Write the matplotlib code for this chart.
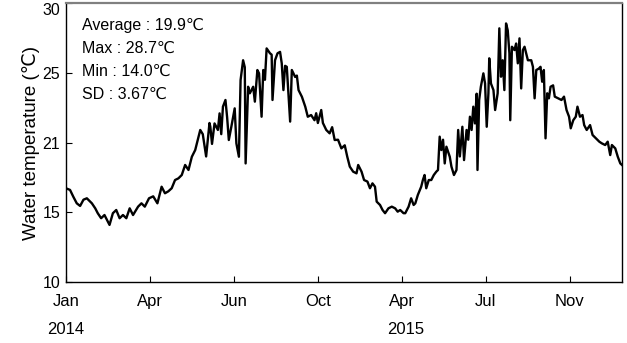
import matplotlib
matplotlib.use('Agg')
import matplotlib.pyplot as plt
import matplotlib.transforms as mtransforms

plt.rcParams['font.family'] = ['Liberation Sans', 'DejaVu Sans']

# sample index (ticks every 100) and water temperature
day = [0, 5, 9, 13, 17, 21, 25, 31, 35, 38, 42, 46, 52, 56, 60, 64, 68, 72, 76, 80,
       86, 90, 94, 99, 104, 109, 114, 118, 122, 126, 130, 134, 138, 142, 146, 150, 154, 158, 160, 163,
       167, 171, 172, 174, 177, 181, 183, 185, 187, 190, 192, 194, 197, 201, 203, 206, 208, 211, 213, 214,
       217, 219, 223, 225, 228, 230, 233, 235, 237, 239, 243, 245, 246, 249, 252, 255, 257, 259, 261, 263,
       267, 269, 273, 275, 277, 281, 285, 288, 292, 296, 298, 300, 304, 306, 310, 314, 317, 320, 324, 328,
       332, 335, 338, 342, 346, 348, 352, 355, 359, 362, 365, 368, 370, 374, 377, 380, 384, 388, 392, 395,
       398, 402, 404, 408, 411, 414, 416, 419, 423, 425, 427, 429, 432, 435, 438, 441, 443, 445, 447, 449,
       451, 453, 457, 459, 462, 465, 467, 469, 472, 474, 477, 479, 481, 483, 485, 487, 489, 490, 492, 494,
       497, 499, 501, 503, 504, 506, 509, 511, 514, 516, 518, 520, 522, 524, 525, 526, 528, 529, 531, 534,
       536, 538, 540, 542, 544, 546, 548, 550, 554, 556, 558, 560, 563, 565, 567, 569, 571, 573, 575, 577,
       580, 582, 586, 590, 593, 596, 599, 601, 604, 607, 609, 612, 615, 617, 620, 624, 627, 631, 635, 638,
       642, 645, 648, 650, 654, 657, 660, 662]
temp = [16.72, 16.6, 16.1, 15.64, 15.45, 15.9, 16.0, 15.64, 15.28, 14.93, 14.57, 14.8, 14.09, 14.93, 15.16, 14.57, 14.8, 14.57, 15.28, 14.8,
        15.4, 15.64, 15.4, 16.0, 16.14, 15.64, 16.83, 16.36, 16.5, 16.72, 17.31, 17.43, 17.67, 18.39, 18.03, 18.98, 19.46, 20.42, 20.9, 20.6,
        19.0, 21.4, 21.13, 19.9, 21.37, 20.9, 22.09, 20.6, 22.57, 23.05, 21.8, 20.18, 21.13, 22.45, 19.94, 18.98, 24.48, 25.9, 25.4, 18.5,
        24.0, 23.53, 24.0, 22.93, 25.2, 24.96, 21.85, 25.2, 24.5, 26.75, 26.4, 26.3, 23.05, 25.9, 26.4, 26.5, 25.68, 23.76, 25.5, 25.43,
        21.5, 25.2, 24.7, 24.8, 23.76, 23.28, 22.57, 21.85, 21.97, 21.6, 22.1, 21.4, 22.33, 21.4, 20.9, 20.66, 21.1, 20.18, 20.2, 19.58,
        19.8, 18.98, 18.27, 17.91, 17.79, 18.39, 17.91, 17.31, 17.2, 16.72, 17.07, 16.83, 15.76, 15.52, 15.16, 14.93, 15.28, 15.4, 15.28, 15.04,
        15.16, 14.93, 14.93, 15.4, 16.0, 15.52, 15.64, 16.24, 16.83, 17.31, 17.67, 16.72, 17.31, 17.31, 17.67, 17.91, 18.03, 20.42, 19.46, 20.2,
        18.5, 19.7, 18.98, 18.27, 17.67, 18.03, 20.9, 19.0, 21.13, 18.74, 20.9, 20.2, 21.85, 20.9, 22.57, 21.37, 23.5, 18.03, 23.05, 24.0,
        24.96, 24.24, 21.13, 23.53, 26.04, 24.24, 23.76, 22.33, 23.53, 28.19, 24.72, 25.9, 23.76, 28.54, 28.3, 28.05, 26.4, 21.6, 26.87, 26.63,
        27.1, 25.68, 27.47, 23.88, 26.63, 26.87, 26.39, 25.9, 25.9, 25.43, 23.17, 25.2, 25.3, 25.43, 24.36, 25.2, 20.3, 23.53, 23.17, 24.0,
        24.1, 23.29, 23.17, 23.05, 23.29, 22.33, 21.85, 21.02, 21.6, 21.85, 22.57, 21.85, 21.97, 21.25, 20.9, 21.25, 20.54, 20.3, 20.06, 19.94,
        19.82, 20.06, 19.1, 19.82, 19.58, 18.98, 18.5, 18.39]

tick_pos = [0, 100, 200, 300, 400, 500, 600]
tick_labels = ['Jan', 'Apr', 'Jun', 'Oct', 'Apr', 'Jul', 'Nov']
ytick_pos = [10, 15, 20, 25, 30]
ytick_labels = ['10', '15', '21', '25', '30']
years = [(0, '2014'), (405, '2015')]
stats = ['Average : 19.9℃', 'Max : 28.7℃', 'Min : 14.0℃', 'SD : 3.67℃']

fig = plt.figure(figsize=(6.27, 3.43), dpi=100)
ax = fig.add_axes([0.105, 0.178, 0.887, 0.813])

ax.plot(day, temp, color='black', linewidth=1.7)

ax.set_xlim(0, 662)
ax.set_ylim(10, 30)
ax.set_xticks(tick_pos)
ax.set_xticklabels(tick_labels)
ax.set_yticks(ytick_pos)
ax.set_yticklabels(ytick_labels)
ax.tick_params(axis='x', direction='in', length=4, pad=9, labelsize=12)
ax.tick_params(axis='y', direction='in', length=4, pad=4, labelsize=11.5)
ax.get_yticklabels()[-1].set_va('top')
ax.set_ylabel('Water temperature (℃)', fontsize=13.5, labelpad=2)

ax.spines['top'].set_color('#808080')
ax.spines['top'].set_linewidth(1.6)
for s in ['left', 'bottom', 'right']:
    ax.spines[s].set_color('black')
    ax.spines[s].set_linewidth(1.0)

trans = mtransforms.blended_transform_factory(ax.transData, ax.transAxes)
for xpos, yr in years:
    ax.text(xpos, -0.172, yr, transform=trans, ha='center', va='center', fontsize=12)

for i, line in enumerate(stats):
    ax.text(0.029, 0.92 - i * 0.082, line, transform=ax.transAxes,
            ha='left', va='center', fontsize=11.5)

fig.savefig('out.png', dpi=100)
